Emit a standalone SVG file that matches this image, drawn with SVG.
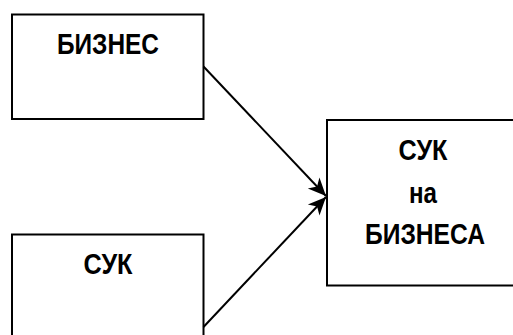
<svg xmlns="http://www.w3.org/2000/svg" width="513" height="335" viewBox="0 0 513 335">
<style>
.box{fill:#fff;stroke:#000;stroke-width:2}
.lbl{font-family:"Liberation Sans",Arial,sans-serif;font-weight:bold;font-size:29px;fill:#000;text-anchor:middle}
.conn{stroke:#000;stroke-width:2;fill:none}
</style>
<defs>
<marker id="ah" viewBox="-20 -10 22 20" refX="0" refY="0" markerWidth="22" markerHeight="20" markerUnits="userSpaceOnUse" orient="auto">
<path d="M0,0 L-18,-8 L-13,0 L-18,8 Z" fill="#000"/>
</marker>
</defs>
<g id="node-biznes">
<rect class="box" x="12" y="14.5" width="191.5" height="104.5"/>
<text class="lbl" x="108" y="53.5" textLength="102" lengthAdjust="spacingAndGlyphs">БИЗНЕС</text>
</g>
<g id="node-suk">
<rect class="box" x="12" y="234.5" width="191.5" height="110"/>
<text class="lbl" x="108" y="274" textLength="49" lengthAdjust="spacingAndGlyphs">СУК</text>
</g>
<g id="node-suk-biznes">
<rect class="box" x="327" y="120" width="200" height="165.5"/>
<text class="lbl" x="423" y="160" textLength="49" lengthAdjust="spacingAndGlyphs">СУК</text>
<text class="lbl" x="423" y="203" textLength="28" lengthAdjust="spacingAndGlyphs">на</text>
<text class="lbl" x="425" y="243.5" textLength="120" lengthAdjust="spacingAndGlyphs">БИЗНЕСА</text>
</g>
<g id="connectors">
<line class="conn" x1="203.5" y1="66.5" x2="326" y2="196" marker-end="url(#ah)"/>
<line class="conn" x1="203.5" y1="327" x2="326" y2="197" marker-end="url(#ah)"/>
</g>
</svg>
